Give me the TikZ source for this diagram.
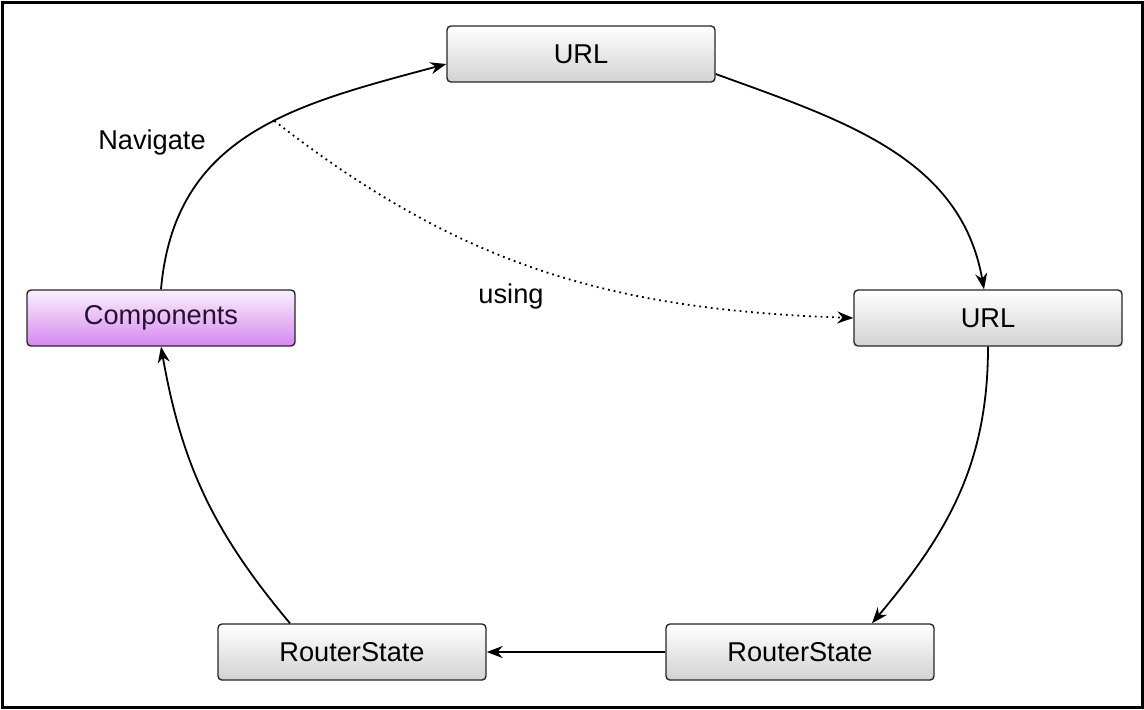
\documentclass[tikz,border=0pt]{standalone}
\usepackage{fontspec}
\setmainfont{Liberation Sans}
\usetikzlibrary{arrows.meta}

\definecolor{boxgray}{RGB}{210,210,210}
\definecolor{comptop}{RGB}{250,240,253}
\definecolor{compviolet}{RGB}{214,136,240}
\definecolor{compink}{RGB}{40,16,48}

\begin{document}
\begin{tikzpicture}[x=0.5pt, y=-0.5pt, >={Stealth[length=8pt,width=6pt]},
    box/.style={draw=black!85, line width=0.7pt, rounded corners=2pt,
        minimum width=134pt, minimum height=28pt,
        top color=white, bottom color=boxgray,
        font=\fontsize{13.6}{16}\selectfont},
    compbox/.style={box, top color=comptop, bottom color=compviolet, text=compink},
    link/.style={->, line width=0.9pt},
    lbl/.style={font=\fontsize{13.6}{16}\selectfont}]

    \useasboundingbox (0,0) rectangle (1144,709);
    \draw[line width=1.5pt] (2,2) rectangle (1142,707);

    \node[box] (urltop) at (581,54) {URL};
    \node[box] (urlright) at (988,318) {URL};
    \node[compbox] (comp) at (161,318) {Components};
    \node[box] (stateleft) at (352,652) {RouterState};
    \node[box] (stateright) at (800,652) {RouterState};

    \node[lbl] (navlbl) at (152,142) {Navigate};
    \node[lbl] (usinglbl) at (511,296) {using};

    % the cycle
    \draw[link] (comp.north) to[out=85, in=195, looseness=1.1]
        coordinate[pos=0.57] (navpt) ([yshift=-5pt]urltop.west);
    \draw[link] ([yshift=-10pt]urltop.east) to[out=-20, in=100] ([xshift=-2pt]urlright.north);
    \draw[link] (urlright.south) to[out=-90, in=50] ([xshift=36pt]stateright.north);
    \draw[link] (stateright.west) -- (stateleft.east);
    \draw[link] ([xshift=-31pt]stateleft.north) to[out=130, in=-80] (comp.south);

    % dotted
    \draw[link, dotted] (navpt) to[out=-38, in=178] (urlright.west);
\end{tikzpicture}
\end{document}
